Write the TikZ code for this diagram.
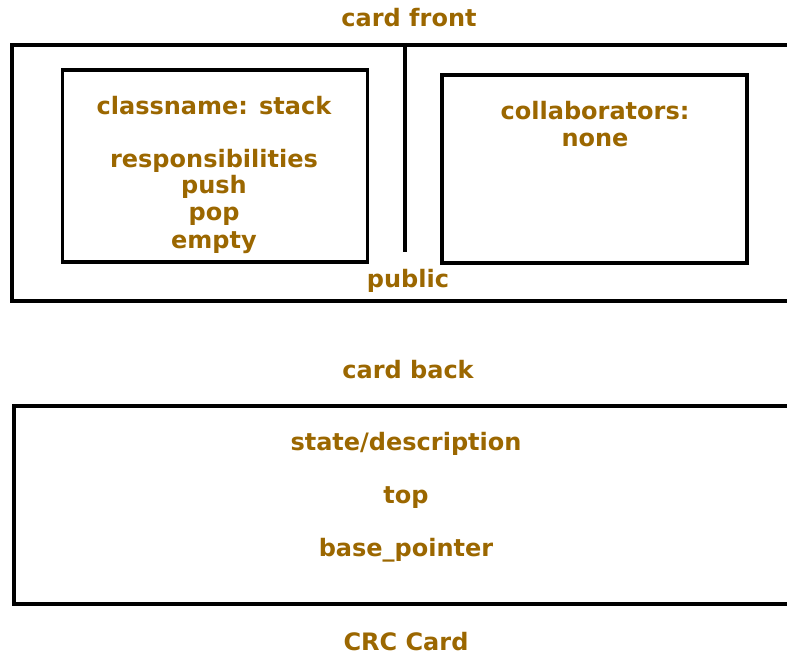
\documentclass[tikz,border=0pt]{standalone}
\usepackage{xcolor}
\usepackage{fontspec}
\setmainfont{DejaVu Sans}
\usetikzlibrary{positioning}
\definecolor{cardbrown}{RGB}{155,103,0}
\tikzset{
    cardline/.style = {line width=3.5pt, black},
    cardbox/.style  = {draw, cardline, inner sep=0pt},
    cardtext/.style = {text=cardbrown, anchor=base, inner sep=0pt,
                       font=\bfseries\fontsize{24}{28}\selectfont}
}

\begin{document}
\begin{tikzpicture}[x=1pt, y=-1pt]
    \useasboundingbox (0,0) rectangle (787,655);

    % Draw card front.
    \node[cardtext] (fronttitle) at (409,27) {card front};
    \draw[cardline] (787,45) -- (12,45) -- (12,301) -- (787,301);
    \coordinate (divtop) at (405,43);
    \coordinate (divbot) at (405,252);
    \draw[cardline] (divtop) -- (divbot);
    \node[cardtext] (public) at (408,287) {public};

    % Draw class box.
    \node[cardbox, minimum width=305pt, minimum height=192pt] (classbox) at (215,166) {};
    \foreach \t/\b [count=\i] in {classname: stack/115, responsibilities/168,
                                  push/194, pop/221, empty/248}
        \node[cardtext] (class\i) at (214,\b) {\t};

    % Draw collaborators box.
    \node[cardbox, minimum width=305pt, minimum height=188pt] (collabbox) at (594.5,169) {};
    \foreach \t/\b [count=\i] in {collaborators:/120, none/147}
        \node[cardtext] (collab\i) at (595,\b) {\t};

    % Draw card back.
    \node[cardtext] (backtitle) at (408,378) {card back};
    \draw[cardline] (787,406) -- (14,406) -- (14,604) -- (787,604);
    \foreach \t/\b [count=\i] in {state\slash description/450, top/503, base\_pointer/556}
        \node[cardtext] (back\i) at (406,\b) {\t};

    \node[cardtext] (crc) at (406,650) {CRC Card};
\end{tikzpicture}
\end{document}
